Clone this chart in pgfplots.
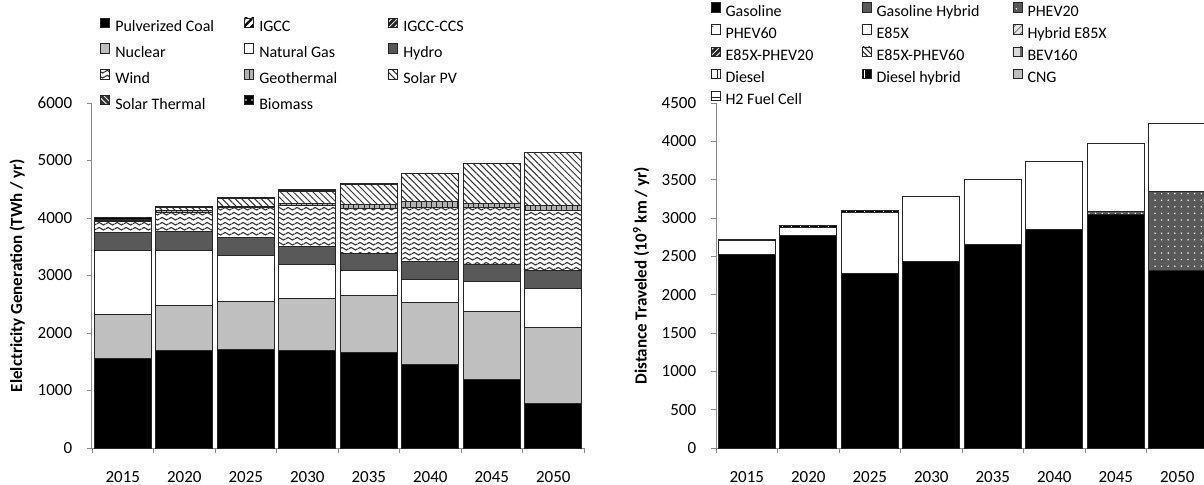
\documentclass[border=0pt]{standalone}
\usepackage{fontspec}
\setmainfont{Carlito}
\usepackage{pgfplots}
\usepackage{pgfplotstable}
\pgfplotsset{compat=1.18}
\usetikzlibrary{patterns,patterns.meta}

% wavy pattern for wind
\tikzdeclarepattern{
  name=waves,
  type=uncolored,
  bounding box={(0pt,0pt) and (4.4pt,2.6pt)},
  tile size={(4.4pt,2.6pt)},
  code={
    \draw[line width=0.6pt] (0pt,1.3pt) .. controls (1.1pt,2.3pt) and (1.1pt,2.3pt) .. (2.2pt,1.3pt)
      .. controls (3.3pt,0.3pt) and (3.3pt,0.3pt) .. (4.4pt,1.3pt);
  }
}

\pgfplotstableread{
x coal igcc ccs nuclear gas hydro wind geo pv st bio
0 1560 0 0  770 1100 312  205   5  10 5 35
1 1688 0 0  798  953 321  340  29  51 0 21
2 1705 0 0  850  798 314  508  25 134 3 20
3 1694 0 0  907  590 309  716  29 222 5 18
4 1665 0 0  982  434 309  768  75 343 5 19
5 1457 0 0 1081  398 314  925 105 488 3 4
6 1185 0 0 1185  520 310  975  82 683 2 2
7  769 0 0 1329  677 317 1037  81 930 2 2
}\elec

\pgfplotstableread{
x gas ghyb phevA phevB e85x he85x epA epB bev diesel dhyb cng htwo
0 2520 0    0 0 185 0 0 0 0 0 20 0 0
1 2768 0    0 0 113 0 0 0 0 0 24 0 0
2 2275 0    0 0 800 0 0 0 0 0 20 0 0
3 2435 0    0 0 852 0 0 0 0 0 0 0 0
4 2652 0    0 0 853 0 0 0 0 0 0 0 0
5 2856 0    0 0 877 0 0 0 0 0 0 0 0
6 3045 0   38 0 890 0 0 0 0 0 0 0 0
7 2318 0 1027 0 887 0 0 0 0 0 0 0 0
}\vkt

\newcommand{\LL}[1]{\makebox[67pt][l]{\hspace{2.5pt}#1}}
\newcommand{\RL}[1]{\makebox[70.5pt][l]{\hspace{2.5pt}#1}}
\newcommand{\EL}[1]{\hspace{2.5pt}#1}

\tikzset{
  bs/.style={draw=black!85, line width=0.5pt},
  pat/.style 2 args={postaction={pattern={#1}, pattern color=#2}},
}

\pgfplotsset{
  twobar/.style={
    ybar stacked, bar width=0.92,
    scale only axis, width=246pt, height=172.5pt,
    xmin=-0.5, xmax=7.5, ymin=0,
    axis lines*=left, axis line style={black!45, line width=0.5pt},
    tick align=outside, major tick length=2.5pt, minor tick length=2.5pt,
    xtick={0,...,7}, xticklabels={2015,2020,2025,2030,2035,2040,2045,2050},
    minor xtick={-0.5,0.5,...,7.5},
    major x tick style={draw=none}, minor x tick style={draw=black!45},
    ytick style={draw=black!45},
    ticklabel style={font=\fontsize{8.5}{10}\selectfont},
    xticklabel style={yshift=-5.5pt},
    yticklabel style={xshift=-3.9pt},
    /pgf/number format/assume math mode=true,
    /pgf/number format/1000 sep={},
    scaled y ticks=false,
    every axis y label/.style={at={(axis description cs:-0.152,0.5)}, rotate=90, anchor=center,
      font=\bfseries\fontsize{8.5}{10}\selectfont},
    legend image code/.code={\draw[##1, line width=0.4pt] (0pt,0pt) rectangle (4.6pt,4.6pt);},
    legend cell align=left,
  },
}

\begin{document}
\begin{tikzpicture}[x=1pt,y=1pt]
\path[use as bounding box] (0,0) rectangle (602,242);
\clip (0,0) rectangle (602,242);

\begin{axis}[twobar,
  at={(46pt,18pt)}, anchor=south west,
  ymax=6000, ytick={0,1000,...,6000},
  ylabel={Elelctricity Generation (TWh / yr)},
  legend style={draw=none, fill=none, at={(0.016,1.249)}, anchor=north west,
    legend columns=3, font=\fontsize{8}{9}\selectfont, row sep=4.3pt, inner sep=0pt,
    nodes={inner sep=0pt, text height=6pt, text depth=1.7pt}},
]
\addplot[bs, fill=black] table[x=x,y=coal]{\elec};
\addlegendentry{\LL{Pulverized Coal}}
\addplot[bs, fill=white, pat={Lines[angle=45,distance=2.6pt,line width=1.1pt]}{black}] table[x=x,y=igcc]{\elec};
\addlegendentry{\LL{IGCC}}
\addplot[bs, fill=black!85, pat={Lines[angle=45,distance=2pt,line width=0.4pt]}{white}] table[x=x,y=ccs]{\elec};
\addlegendentry{\EL{IGCC-CCS}}
\addplot[bs, fill=black!25] table[x=x,y=nuclear]{\elec};
\addlegendentry{\LL{Nuclear}}
\addplot[bs, fill=white] table[x=x,y=gas]{\elec};
\addlegendentry{\LL{Natural Gas}}
\addplot[bs, fill=black!65] table[x=x,y=hydro]{\elec};
\addlegendentry{\EL{Hydro}}
\addplot[bs, fill=white, pat={waves}{black!80}] table[x=x,y=wind]{\elec};
\addlegendentry{\LL{Wind}}
\addplot[bs, fill=black!30, pat={Lines[angle=90,distance=2.6pt,line width=0.5pt]}{black!85}] table[x=x,y=geo]{\elec};
\addlegendentry{\LL{Geothermal}}
\addplot[bs, fill=white, pat={Lines[angle=-45,distance=2.3pt,line width=0.5pt]}{black!80}] table[x=x,y=pv]{\elec};
\addlegendentry{\EL{Solar PV}}
\addplot[bs, fill=black!80, pat={Lines[angle=-45,distance=2pt,line width=0.4pt]}{white}] table[x=x,y=st]{\elec};
\addlegendentry{\LL{Solar Thermal}}
\addplot[bs, fill=black, pat={Dots[distance=3pt,radius=0.4pt]}{white}] table[x=x,y=bio]{\elec};
\addlegendentry{\LL{Biomass}}
\end{axis}

\begin{axis}[twobar,
  at={(358pt,18pt)}, anchor=south west,
  ymax=4500, ytick={0,500,...,4500},
  ylabel={Distance Traveled (10\textsuperscript{9} km / yr)},
  legend style={draw=none, fill=none, at={(-0.012,1.293)}, anchor=north west,
    legend columns=3, font=\fontsize{8}{9}\selectfont, row sep=2.4pt, inner sep=0pt,
    nodes={inner sep=0pt, text height=6pt, text depth=1.7pt}},
]
\addplot[bs, fill=black] table[x=x,y=gas]{\vkt};
\addlegendentry{\RL{Gasoline}}
\addplot[bs, fill=black!65] table[x=x,y=ghyb]{\vkt};
\addlegendentry{\RL{Gasoline Hybrid}}
\addplot[bs, fill=black!65, pat={Dots[distance=3.3pt,radius=0.4pt]}{white}] table[x=x,y=phevA]{\vkt};
\addlegendentry{\EL{PHEV20}}
\addplot[bs, fill=white, pat={Dots[distance=4.4pt,radius=0.4pt]}{black!70}] table[x=x,y=phevB]{\vkt};
\addlegendentry{\RL{PHEV60}}
\addplot[bs, fill=white] table[x=x,y=e85x]{\vkt};
\addlegendentry{\RL{E85X}}
\addplot[bs, fill=black!10, pat={Lines[angle=45,distance=2.4pt,line width=0.4pt]}{black!60}] table[x=x,y=he85x]{\vkt};
\addlegendentry{\EL{Hybrid E85X}}
\addplot[bs, fill=black!85, pat={Lines[angle=45,distance=2pt,line width=0.4pt]}{white}] table[x=x,y=epA]{\vkt};
\addlegendentry{\RL{E85X-PHEV20}}
\addplot[bs, fill=white, pat={Lines[angle=-45,distance=2pt,line width=0.5pt]}{black!85}] table[x=x,y=epB]{\vkt};
\addlegendentry{\RL{E85X-PHEV60}}
\addplot[bs, fill=black!15, pat={Lines[angle=90,distance=4.6pt,line width=1.4pt]}{black!60}] table[x=x,y=bev]{\vkt};
\addlegendentry{\EL{BEV160}}
\addplot[bs, fill=white, pat={Lines[angle=90,distance=4.6pt,line width=0.4pt]}{black!85}] table[x=x,y=diesel]{\vkt};
\addlegendentry{\RL{Diesel}}
\addplot[bs, fill=black, pat={Lines[angle=90,distance=4.6pt,line width=0.5pt]}{white}] table[x=x,y=dhyb]{\vkt};
\addlegendentry{\RL{Diesel hybrid}}
\addplot[bs, fill=black!25] table[x=x,y=cng]{\vkt};
\addlegendentry{\EL{CNG}}
\addplot[bs, fill=white, pat={Lines[angle=0,distance=4.6pt,line width=0.4pt]}{black!85}] table[x=x,y=htwo]{\vkt};
\addlegendentry{\RL{H2 Fuel Cell}}
\end{axis}
\end{tikzpicture}
\end{document}
